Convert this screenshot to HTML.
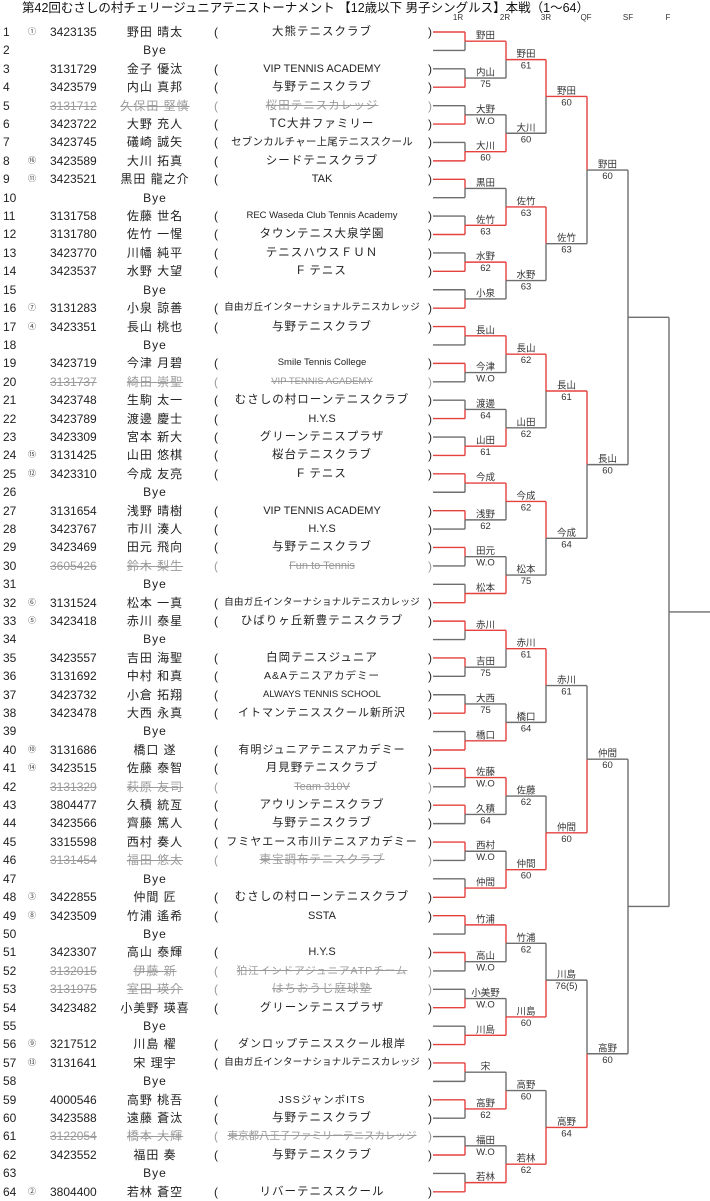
<!DOCTYPE html>
<html><head><meta charset="utf-8">
<style>
body{margin:0;background:#fff;width:710px;height:1200px;overflow:hidden;position:relative;font-family:"Liberation Sans","Noto Sans CJK JP",sans-serif;color:#222}
.t{position:absolute;left:22px;top:0px;font-size:12.5px;font-weight:normal;white-space:nowrap;line-height:16px;color:#111}
.rd{position:absolute;top:13px;font-size:8px;color:#333;transform:translateX(-50%);font-family:"Liberation Sans Narrow","Liberation Sans",sans-serif}
#tb{position:absolute;left:0;top:23px;width:440px}
.r{position:relative;height:18.41px;line-height:18.41px;font-size:12px;white-space:nowrap}
.r span{position:absolute;top:0}
.n{left:3px}
.s{left:28px;font-size:8px;color:#444}
.i{left:50px;font-family:"Liberation Sans Narrow","Liberation Sans",sans-serif;font-size:12px}
.m{left:105px;width:100px;text-align:center;letter-spacing:1px}
.a{left:214px}
.c{left:222px;width:200px;text-align:center;font-size:11.5px;letter-spacing:1px}
.c.l{font-family:"Liberation Sans Narrow","Liberation Sans",sans-serif;font-size:11px;letter-spacing:0}
.c.sm{font-size:9.5px;letter-spacing:0}
.c.xs{font-size:9.6px;letter-spacing:0.2px}
.b{left:428px}
.x span{color:#9a9a9a;text-decoration:line-through}
.x .b,.x .a,.x .n{text-decoration:none}
.x .n{color:#222}
svg{position:absolute;left:0;top:0}
svg text{font-family:"Liberation Sans","Noto Sans CJK JP",sans-serif;font-size:9.5px;fill:#333;text-anchor:middle}
</style></head><body>
<div class="t">第42回むさしの村チェリージュニアテニストーナメント 【12歳以下 男子シングルス】本戦（1～64）</div>
<div class="rd" style="left:458px">1R</div><div class="rd" style="left:505px">2R</div><div class="rd" style="left:546px">3R</div><div class="rd" style="left:586px">QF</div><div class="rd" style="left:628px">SF</div><div class="rd" style="left:668px">F</div>
<div id="tb">
<div class="r"><span class="n">1</span><span class="s">①</span><span class="i">3423135</span><span class="m">野田 晴太</span><span class="a">(</span><span class="c">大熊テニスクラブ</span><span class="b">)</span></div>
<div class="r"><span class="n">2</span><span class="m">Bye</span></div>
<div class="r"><span class="n">3</span><span class="i">3131729</span><span class="m">金子 優汰</span><span class="a">(</span><span class="c l">VIP TENNIS ACADEMY</span><span class="b">)</span></div>
<div class="r"><span class="n">4</span><span class="i">3423579</span><span class="m">内山 真邦</span><span class="a">(</span><span class="c">与野テニスクラブ</span><span class="b">)</span></div>
<div class="r x"><span class="n">5</span><span class="i">3131712</span><span class="m">久保田 堅慎</span><span class="a">(</span><span class="c">桜田テニスカレッジ</span><span class="b">)</span></div>
<div class="r"><span class="n">6</span><span class="i">3423722</span><span class="m">大野 充人</span><span class="a">(</span><span class="c">TC大井ファミリー</span><span class="b">)</span></div>
<div class="r"><span class="n">7</span><span class="i">3423745</span><span class="m">礒崎 誠矢</span><span class="a">(</span><span class="c xs" style="font-size:10.5px">セブンカルチャー上尾テニススクール</span><span class="b">)</span></div>
<div class="r"><span class="n">8</span><span class="s">⑯</span><span class="i">3423589</span><span class="m">大川 拓真</span><span class="a">(</span><span class="c">シードテニスクラブ</span><span class="b">)</span></div>
<div class="r"><span class="n">9</span><span class="s">⑪</span><span class="i">3423521</span><span class="m">黒田 龍之介</span><span class="a">(</span><span class="c l">TAK</span><span class="b">)</span></div>
<div class="r"><span class="n">10</span><span class="m">Bye</span></div>
<div class="r"><span class="n">11</span><span class="i">3131758</span><span class="m">佐藤 世名</span><span class="a">(</span><span class="c l sm">REC Waseda Club Tennis Academy</span><span class="b">)</span></div>
<div class="r"><span class="n">12</span><span class="i">3131780</span><span class="m">佐竹 一惺</span><span class="a">(</span><span class="c">タウンテニス大泉学園</span><span class="b">)</span></div>
<div class="r"><span class="n">13</span><span class="i">3423770</span><span class="m">川幡 純平</span><span class="a">(</span><span class="c">テニスハウスＦＵＮ</span><span class="b">)</span></div>
<div class="r"><span class="n">14</span><span class="i">3423537</span><span class="m">水野 大望</span><span class="a">(</span><span class="c">F テニス</span><span class="b">)</span></div>
<div class="r"><span class="n">15</span><span class="m">Bye</span></div>
<div class="r"><span class="n">16</span><span class="s">⑦</span><span class="i">3131283</span><span class="m">小泉 諒善</span><span class="a">(</span><span class="c xs">自由ガ丘インターナショナルテニスカレッジ</span><span class="b">)</span></div>
<div class="r"><span class="n">17</span><span class="s">④</span><span class="i">3423351</span><span class="m">長山 桃也</span><span class="a">(</span><span class="c">与野テニスクラブ</span><span class="b">)</span></div>
<div class="r"><span class="n">18</span><span class="m">Bye</span></div>
<div class="r"><span class="n">19</span><span class="i">3423719</span><span class="m">今津 月碧</span><span class="a">(</span><span class="c l sm">Smile Tennis College</span><span class="b">)</span></div>
<div class="r x"><span class="n">20</span><span class="i">3131737</span><span class="m">綺田 崇聖</span><span class="a">(</span><span class="c l sm">VIP TENNIS ACADEMY</span><span class="b">)</span></div>
<div class="r"><span class="n">21</span><span class="i">3423748</span><span class="m">生駒 太一</span><span class="a">(</span><span class="c">むさしの村ローンテニスクラブ</span><span class="b">)</span></div>
<div class="r"><span class="n">22</span><span class="i">3423789</span><span class="m">渡邊 慶士</span><span class="a">(</span><span class="c l">H.Y.S</span><span class="b">)</span></div>
<div class="r"><span class="n">23</span><span class="i">3423309</span><span class="m">宮本 新大</span><span class="a">(</span><span class="c">グリーンテニスプラザ</span><span class="b">)</span></div>
<div class="r"><span class="n">24</span><span class="s">⑮</span><span class="i">3131425</span><span class="m">山田 悠棋</span><span class="a">(</span><span class="c">桜台テニスクラブ</span><span class="b">)</span></div>
<div class="r"><span class="n">25</span><span class="s">⑫</span><span class="i">3423310</span><span class="m">今成 友亮</span><span class="a">(</span><span class="c">F テニス</span><span class="b">)</span></div>
<div class="r"><span class="n">26</span><span class="m">Bye</span></div>
<div class="r"><span class="n">27</span><span class="i">3131654</span><span class="m">浅野 晴樹</span><span class="a">(</span><span class="c l">VIP TENNIS ACADEMY</span><span class="b">)</span></div>
<div class="r"><span class="n">28</span><span class="i">3423767</span><span class="m">市川 湊人</span><span class="a">(</span><span class="c l">H.Y.S</span><span class="b">)</span></div>
<div class="r"><span class="n">29</span><span class="i">3423469</span><span class="m">田元 飛向</span><span class="a">(</span><span class="c">与野テニスクラブ</span><span class="b">)</span></div>
<div class="r x"><span class="n">30</span><span class="i">3605426</span><span class="m">鈴木 梨生</span><span class="a">(</span><span class="c l">Fun to Tennis</span><span class="b">)</span></div>
<div class="r"><span class="n">31</span><span class="m">Bye</span></div>
<div class="r"><span class="n">32</span><span class="s">⑥</span><span class="i">3131524</span><span class="m">松本 一真</span><span class="a">(</span><span class="c xs">自由ガ丘インターナショナルテニスカレッジ</span><span class="b">)</span></div>
<div class="r"><span class="n">33</span><span class="s">⑤</span><span class="i">3423418</span><span class="m">赤川 泰星</span><span class="a">(</span><span class="c">ひばりヶ丘新豊テニスクラブ</span><span class="b">)</span></div>
<div class="r"><span class="n">34</span><span class="m">Bye</span></div>
<div class="r"><span class="n">35</span><span class="i">3423557</span><span class="m">吉田 海聖</span><span class="a">(</span><span class="c">白岡テニスジュニア</span><span class="b">)</span></div>
<div class="r"><span class="n">36</span><span class="i">3131692</span><span class="m">中村 和真</span><span class="a">(</span><span class="c" style="font-size:10.5px">A&amp;Aテニスアカデミー</span><span class="b">)</span></div>
<div class="r"><span class="n">37</span><span class="i">3423732</span><span class="m">小倉 拓翔</span><span class="a">(</span><span class="c l sm">ALWAYS TENNIS SCHOOL</span><span class="b">)</span></div>
<div class="r"><span class="n">38</span><span class="i">3423478</span><span class="m">大西 永真</span><span class="a">(</span><span class="c" style="font-size:11px">イトマンテニススクール新所沢</span><span class="b">)</span></div>
<div class="r"><span class="n">39</span><span class="m">Bye</span></div>
<div class="r"><span class="n">40</span><span class="s">⑩</span><span class="i">3131686</span><span class="m">橋口 遂</span><span class="a">(</span><span class="c" style="font-size:11px">有明ジュニアテニスアカデミー</span><span class="b">)</span></div>
<div class="r"><span class="n">41</span><span class="s">⑭</span><span class="i">3423515</span><span class="m">佐藤 泰智</span><span class="a">(</span><span class="c">月見野テニスクラブ</span><span class="b">)</span></div>
<div class="r x"><span class="n">42</span><span class="i">3131329</span><span class="m">萩原 友司</span><span class="a">(</span><span class="c l">Team 310V</span><span class="b">)</span></div>
<div class="r"><span class="n">43</span><span class="i">3804477</span><span class="m">久積 統亙</span><span class="a">(</span><span class="c">アウリンテニスクラブ</span><span class="b">)</span></div>
<div class="r"><span class="n">44</span><span class="i">3423566</span><span class="m">齊藤 篤人</span><span class="a">(</span><span class="c">与野テニスクラブ</span><span class="b">)</span></div>
<div class="r"><span class="n">45</span><span class="i">3315598</span><span class="m">西村 奏人</span><span class="a">(</span><span class="c" style="font-size:11px">フミヤエース市川テニスアカデミー</span><span class="b">)</span></div>
<div class="r x"><span class="n">46</span><span class="i">3131454</span><span class="m">福田 悠太</span><span class="a">(</span><span class="c">東宝調布テニスクラブ</span><span class="b">)</span></div>
<div class="r"><span class="n">47</span><span class="m">Bye</span></div>
<div class="r"><span class="n">48</span><span class="s">③</span><span class="i">3422855</span><span class="m">仲間 匠</span><span class="a">(</span><span class="c">むさしの村ローンテニスクラブ</span><span class="b">)</span></div>
<div class="r"><span class="n">49</span><span class="s">⑧</span><span class="i">3423509</span><span class="m">竹浦 遙希</span><span class="a">(</span><span class="c l">SSTA</span><span class="b">)</span></div>
<div class="r"><span class="n">50</span><span class="m">Bye</span></div>
<div class="r"><span class="n">51</span><span class="i">3423307</span><span class="m">高山 泰輝</span><span class="a">(</span><span class="c l">H.Y.S</span><span class="b">)</span></div>
<div class="r x"><span class="n">52</span><span class="i">3132015</span><span class="m">伊藤 新</span><span class="a">(</span><span class="c" style="font-size:10.5px">狛江インドアジュニアATPチーム</span><span class="b">)</span></div>
<div class="r x"><span class="n">53</span><span class="i">3131975</span><span class="m">室田 瑛介</span><span class="a">(</span><span class="c">はちおうじ庭球塾</span><span class="b">)</span></div>
<div class="r"><span class="n">54</span><span class="i">3423482</span><span class="m">小美野 瑛喜</span><span class="a">(</span><span class="c">グリーンテニスプラザ</span><span class="b">)</span></div>
<div class="r"><span class="n">55</span><span class="m">Bye</span></div>
<div class="r"><span class="n">56</span><span class="s">⑨</span><span class="i">3217512</span><span class="m">川島 櫂</span><span class="a">(</span><span class="c" style="font-size:11px">ダンロップテニススクール根岸</span><span class="b">)</span></div>
<div class="r"><span class="n">57</span><span class="s">⑬</span><span class="i">3131641</span><span class="m">宋 理宇</span><span class="a">(</span><span class="c xs">自由ガ丘インターナショナルテニスカレッジ</span><span class="b">)</span></div>
<div class="r"><span class="n">58</span><span class="m">Bye</span></div>
<div class="r"><span class="n">59</span><span class="i">4000546</span><span class="m">高野 桃吾</span><span class="a">(</span><span class="c" style="font-size:10.5px">JSSジャンボITS</span><span class="b">)</span></div>
<div class="r"><span class="n">60</span><span class="i">3423588</span><span class="m">遠藤 蒼汰</span><span class="a">(</span><span class="c">与野テニスクラブ</span><span class="b">)</span></div>
<div class="r x"><span class="n">61</span><span class="i">3122054</span><span class="m">橋本 大輝</span><span class="a">(</span><span class="c" style="font-size:10.5px;letter-spacing:0">東京都八王子ファミリーテニスカレッジ</span><span class="b">)</span></div>
<div class="r"><span class="n">62</span><span class="i">3423552</span><span class="m">福田 奏</span><span class="a">(</span><span class="c">与野テニスクラブ</span><span class="b">)</span></div>
<div class="r"><span class="n">63</span><span class="m">Bye</span></div>
<div class="r"><span class="n">64</span><span class="s">②</span><span class="i">3804400</span><span class="m">若林 蒼空</span><span class="a">(</span><span class="c">リバーテニススクール</span><span class="b">)</span></div>
</div>
<svg id="br" width="710" height="1200" viewBox="0 0 710 1200">
<g id="lines"></g>
<g transform="translate(485.5,0)">
<text x="0" y="38.7">野田</text>
<text x="0" y="75.5">内山</text><text x="0" y="87">75</text>
<text x="0" y="112.3">大野</text><text x="0" y="123.8">W.O</text>
<text x="0" y="149.2">大川</text><text x="0" y="160.7">60</text>
<text x="0" y="186">黒田</text>
<text x="0" y="222.8">佐竹</text><text x="0" y="234.3">63</text>
<text x="0" y="259.6">水野</text><text x="0" y="271.1">62</text>
<text x="0" y="296.4">小泉</text>
<text x="0" y="333.3">長山</text>
<text x="0" y="370.1">今津</text><text x="0" y="381.6">W.O</text>
<text x="0" y="406.9">渡邊</text><text x="0" y="418.4">64</text>
<text x="0" y="443.7">山田</text><text x="0" y="455.2">61</text>
<text x="0" y="480.5">今成</text>
<text x="0" y="517.4">浅野</text><text x="0" y="528.9">62</text>
<text x="0" y="554.2">田元</text><text x="0" y="565.7">W.O</text>
<text x="0" y="591">松本</text>
<text x="0" y="627.8">赤川</text>
<text x="0" y="664.6">吉田</text><text x="0" y="676.1">75</text>
<text x="0" y="701.5">大西</text><text x="0" y="713">75</text>
<text x="0" y="738.3">橋口</text>
<text x="0" y="775.1">佐藤</text><text x="0" y="786.6">W.O</text>
<text x="0" y="811.9">久積</text><text x="0" y="823.4">64</text>
<text x="0" y="848.7">西村</text><text x="0" y="860.2">W.O</text>
<text x="0" y="885.6">仲間</text>
<text x="0" y="922.4">竹浦</text>
<text x="0" y="959.2">高山</text><text x="0" y="970.7">W.O</text>
<text x="0" y="996">小美野</text><text x="0" y="1007.5">W.O</text>
<text x="0" y="1032.8">川島</text>
<text x="0" y="1069.7">宋</text>
<text x="0" y="1106.5">高野</text><text x="0" y="1118">62</text>
<text x="0" y="1143.3">福田</text><text x="0" y="1154.8">W.O</text>
<text x="0" y="1180.1">若林</text>
</g>
<g transform="translate(526,0)">
<text y="57.1">野田</text><text y="68.6">61</text>
<text y="130.8">大川</text><text y="142.3">60</text>
<text y="204.4">佐竹</text><text y="215.9">63</text>
<text y="278">水野</text><text y="289.5">63</text>
<text y="351.7">長山</text><text y="363.2">62</text>
<text y="425.3">山田</text><text y="436.8">62</text>
<text y="499">今成</text><text y="510.5">62</text>
<text y="572.6">松本</text><text y="584.1">75</text>
<text y="646.2">赤川</text><text y="657.7">61</text>
<text y="719.9">橋口</text><text y="731.4">64</text>
<text y="793.5">佐藤</text><text y="805">62</text>
<text y="867.2">仲間</text><text y="878.7">60</text>
<text y="940.8">竹浦</text><text y="952.3">62</text>
<text y="1014.5">川島</text><text y="1026">60</text>
<text y="1088.1">高野</text><text y="1099.6">60</text>
<text y="1161.7">若林</text><text y="1173.2">62</text>
</g>
<g transform="translate(566.5,0)">
<text y="93.9">野田</text><text y="105.4">60</text>
<text y="241.2">佐竹</text><text y="252.7">63</text>
<text y="388.5">長山</text><text y="400">61</text>
<text y="535.8">今成</text><text y="547.3">64</text>
<text y="683.1">赤川</text><text y="694.6">61</text>
<text y="830.3">仲間</text><text y="841.8">60</text>
<text y="977.6">川島</text><text y="989.1">76(5)</text>
<text y="1124.9">高野</text><text y="1136.4">64</text>
</g>
<g transform="translate(607.5,0)">
<text y="167.6">野田</text><text y="179.1">60</text>
<text y="462.1">長山</text><text y="473.6">60</text>
<text y="756.7">仲間</text><text y="768.2">60</text>
<text y="1051.3">高野</text><text y="1062.8">60</text>
</g>
</svg>
<script>
(function(){
var R="#e5423f",G="#6e6e6e";
var xs=[433,465,506,546,587,628,669,710];
var W=[
[0,1,1,1,0,1,1,1,0,0,1,1,0,0,0,1,0,0,1,1,0,0,0,1,0,0,1,1,0,0,1,1],
[0,1,1,0,0,1,0,1,0,1,0,1,0,1,1,1],
[0,0,0,0,0,1,1,1],
[0,0,1,1],
[null,null],
[null]];
var g=document.getElementById('lines'),s='';
function ln(x1,y1,x2,y2,c){s+='<line x1="'+x1+'" y1="'+y1+'" x2="'+x2+'" y2="'+y2+'" stroke="'+c+'" stroke-width="1.4"/>';}
var ys=[];for(var i=0;i<64;i++)ys.push(32+i*18.41);
for(i=0;i<64;i++){var w=W[0][i>>1];var red=(w===(i&1));ln(xs[0],ys[i],xs[1],ys[i],red?R:G);}
for(var L=1;L<=6;L++){
 var ny=[];
 for(var k=0;k<ys.length/2;k++){
  var a=ys[2*k],b=ys[2*k+1],m=(a+b)/2,w=W[L-1][k],x=xs[L];
  if(w===0){ln(x,a,x,m,R);ln(x,m,x,b,G);}
  else if(w===1){ln(x,a,x,m,G);ln(x,m,x,b,R);}
  else ln(x,a,x,b,G);
  var nr=false;
  if(L<6){var wn=W[L]?W[L][k>>1]:null; nr=(wn!==null&&wn!==undefined&&wn===(k&1));}
  ln(x,m,xs[L+1],m,(w!==null&&nr)?R:G);
  ny.push(m);
 }
 ys=ny;
}
g.innerHTML=s;
})();
</script>
</body></html>
